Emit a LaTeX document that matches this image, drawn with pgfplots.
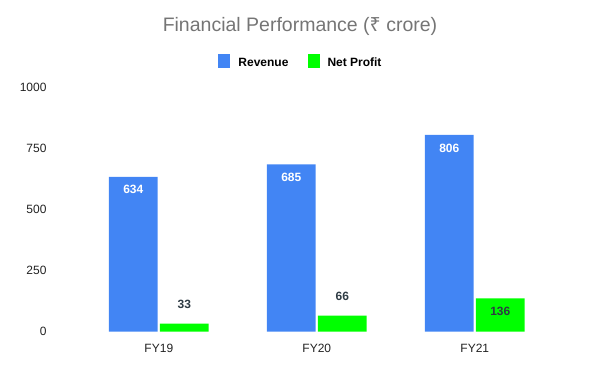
\documentclass[border=0pt]{standalone}
\usepackage{pgfplots}
\pgfplotsset{compat=1.18}
\usepackage{fontspec}
\setmainfont{Liberation Sans}
\newfontfamily\rupeefont{Noto Sans}
\definecolor{revblue}{HTML}{4285F4}
\definecolor{npgreen}{HTML}{00FF00}
\definecolor{titlegray}{HTML}{757575}
\definecolor{labdark}{HTML}{2E3B44}
\definecolor{ticktext}{HTML}{222222}
\begin{document}
\begin{tikzpicture}
\path[use as bounding box] (0,0) rectangle (600pt,371pt);
\begin{axis}[
  at={(50pt,39.3pt)}, anchor=south west,
  scale only axis, width=533.6pt, height=244.2pt,
  ybar=2.3pt, bar width=48.7pt,
  xmin=-0.689, xmax=2.689, ymin=0, ymax=1000,
  xtick={0,1,2}, xticklabels={FY19,FY20,FY21},
  ytick={0,250,500,750,1000},
  axis line style={draw=none}, tick style={draw=none},
  /pgf/number format/assume math mode=true,
  /pgf/number format/1000 sep={},
  ticklabel style={font=\fontsize{12}{14}\selectfont, text=ticktext, inner sep=0pt},
  yticklabel style={anchor=east, xshift=-3.3pt},
  xticklabel style={anchor=north, yshift=-8pt},
  title={Financial Performance ({\rupeefont ₹} crore)},
  title style={at={(axis description cs:0.4685,1.2039)}, anchor=base, font=\fontsize{19.5}{22}\selectfont, text=titlegray, inner sep=0pt},
  legend columns=2,
  legend style={at={(axis description cs:0.4685,1.1085)}, anchor=center, draw=none, fill=none, inner sep=0pt,
    font=\bfseries\fontsize{12}{14}\selectfont,
    nodes={inner sep=0pt},
    /tikz/every odd column/.append style={column sep=8pt},
    /tikz/every even column/.append style={column sep=19pt}},
  legend image code/.code={\fill[#1] (0pt,-4.7pt) rectangle (12pt,9pt);},
  nodes near coords,
  nodes near coords style={font=\bfseries\fontsize{12}{14}\selectfont, inner sep=0pt, anchor=center},
]
\addplot[fill=revblue, draw=none, nodes near coords style={text=white, yshift=-13pt}] coordinates {(0,634) (1,685) (2,806)};
\addlegendentry{Revenue}
\addplot[fill=npgreen, draw=none, nodes near coords style={text=labdark, yshift=\myshift},
  visualization depends on={\thisrow{shift} \as \myshift}] table[x=x,y=y] {
x y shift
0 33 19pt
1 66 19pt
2 136 -12.4pt
};
\addlegendentry{Net Profit}
\end{axis}
\end{tikzpicture}
\end{document}
